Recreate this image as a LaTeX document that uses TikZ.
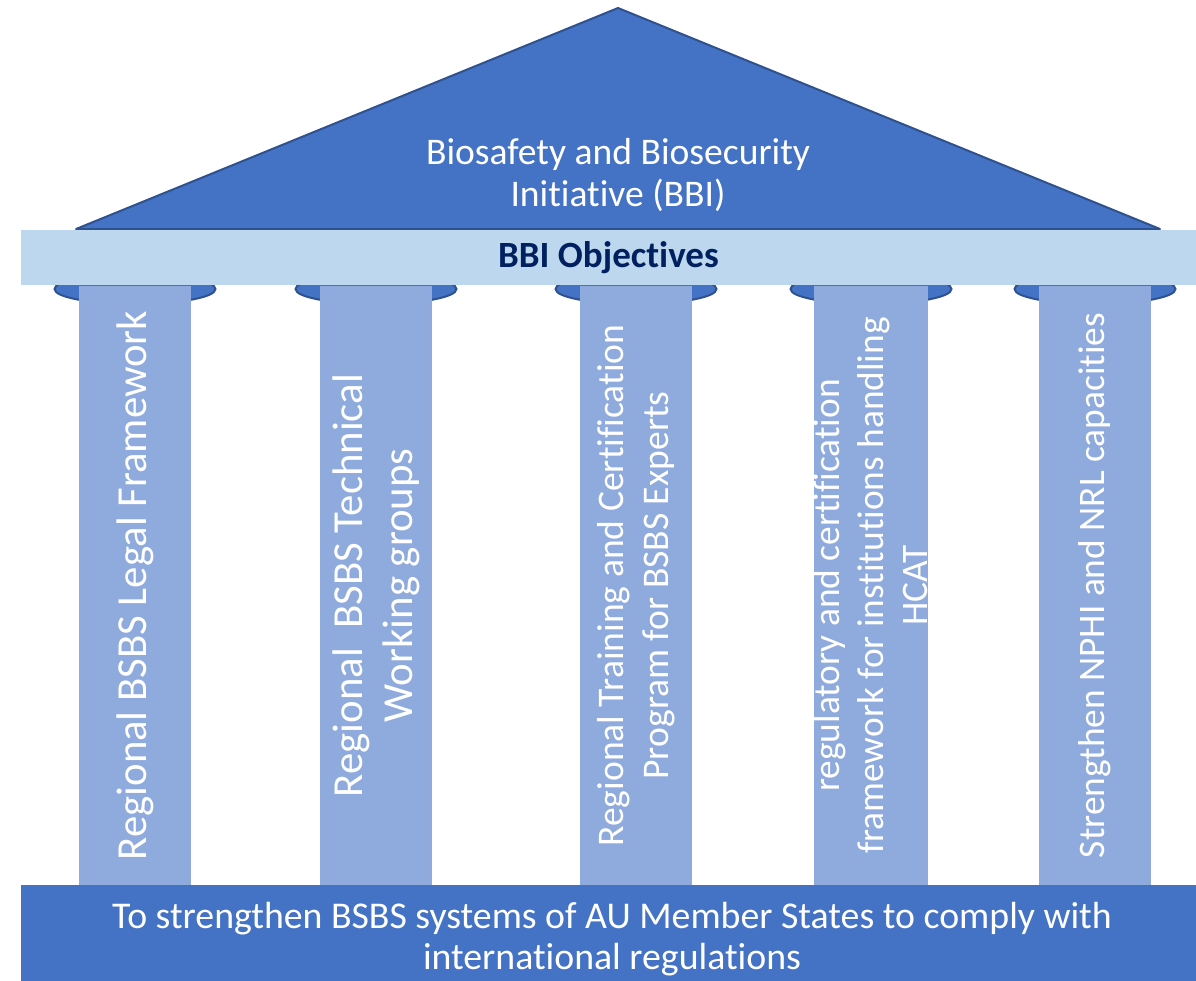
\documentclass[tikz,border=0pt]{standalone}
\usepackage{fontspec}
\setmainfont{Carlito}[Ligatures=NoCommon]
\usetikzlibrary{shapes.geometric}
\definecolor{roofblue}{HTML}{4472C4}
\definecolor{edgeblue}{HTML}{2F528F}
\definecolor{bandblue}{HTML}{BDD7EE}
\definecolor{pillarblue}{HTML}{8FAADC}
\definecolor{navy}{HTML}{002060}

\begin{document}
\begin{tikzpicture}[x=0.5pt, y=-0.5pt,
    pillarcap/.style={ellipse, draw=edgeblue, line width=1pt, fill=roofblue, minimum width=80.5pt, minimum height=15pt, inner sep=0pt},
    pillar/.style={fill=pillarblue, rotate=90, minimum width=299.5pt, minimum height=56pt, inner sep=0pt, text=white, align=center}]
    \useasboundingbox (0,0) rectangle (1196,981);

    % roof
    \coordinate (rl) at (76,229);
    \coordinate (rt) at (618,8);
    \coordinate (rr) at (1160,229);
    \draw [fill=roofblue, draw=edgeblue, line width=1pt, line join=round] (rl) -- (rt) -- (rr) -- cycle;
    \node (roof) at (618,175) [text=white, align=center, font=\fontsize{18.8}{21}\selectfont] {Biosafety and Biosecurity\\Initiative (BBI)};

    % column caps
    \foreach \x in {135,376,636,871,1095} {
      \node (cap\x) at (\x,289) [pillarcap] {};
    }

    \node (band) at (608.5,257.5) [fill=bandblue, minimum width=587.5pt, minimum height=27.5pt, inner sep=0pt, text=navy, font=\fontsize{18.5}{20}\selectfont\bfseries] {BBI Objectives};

    % pillars
    \node (p1) at (135,585.5) [pillar, font=\fontsize{21.4}{25}\selectfont] {Regional BSBS Legal Framework};
    \node (p2) at (376,585.5) [pillar, font=\fontsize{21.4}{25}\selectfont] {Regional\ \ BSBS Technical\\Working groups};
    \node (p3) at (636,585.5) [pillar, font=\fontsize{18.8}{22.5}\selectfont] {Regional Training and Certification\\Program for BSBS Experts};
    \node (p4) at (871,585.5) [pillar, font=\fontsize{18.7}{22}\selectfont] {regulatory and certification\\framework for institutions handling\\HCAT};
    \node (p5) at (1095,585.5) [pillar, font=\fontsize{18.7}{22}\selectfont] {Strengthen NPHI and NRL capacities};

    % base
    \node (base) at (608.5,933) [fill=roofblue, minimum width=587.5pt, minimum height=48pt, inner sep=0pt] {};
    \node (goal) at (612,939.5) [text=white, align=center, font=\fontsize{18.9}{20.5}\selectfont] {To strengthen BSBS systems of AU Member States to comply with\\international regulations};
\end{tikzpicture}
\end{document}
